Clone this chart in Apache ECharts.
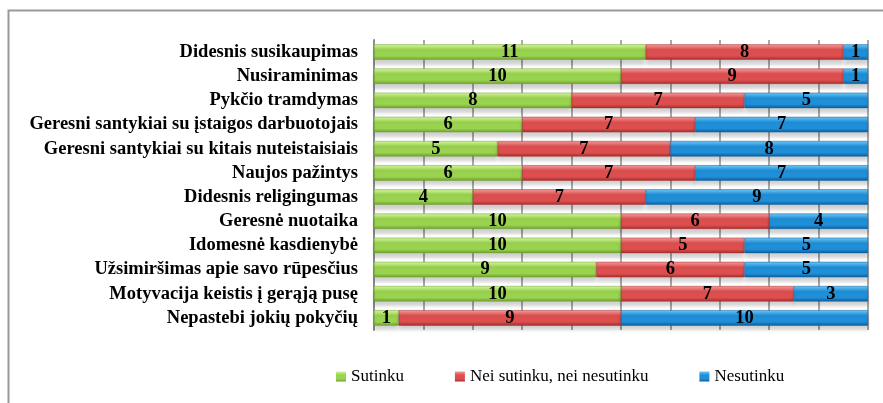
<!DOCTYPE html>
<html>
<head>
<meta charset="utf-8">
<script src="https://cdn.jsdelivr.net/npm/echarts@6/dist/echarts.min.js"></script>
<style>
  html, body { margin: 0; padding: 0; background: #fff; }
  #chart { width: 883px; height: 403px; }
</style>
</head>
<body>
<div id="chart"></div>
<script>
var categories = [
  'Didesnis susikaupimas',
  'Nusiraminimas',
  'Pykčio tramdymas',
  'Geresni santykiai su įstaigos darbuotojais',
  'Geresni santykiai su kitais nuteistaisiais',
  'Naujos pažintys',
  'Didesnis religingumas',
  'Geresnė nuotaika',
  'Idomesnė kasdienybė',
  'Užsimiršimas apie savo rūpesčius',
  'Motyvacija keistis į gerąją pusę',
  'Nepastebi jokių pokyčių'
];
var sutinku = [11, 10, 8, 6, 5, 6, 4, 10, 10, 9, 10, 1];
var neiNei = [8, 9, 7, 7, 7, 7, 7, 6, 5, 6, 7, 9];
var nesutinku = [1, 1, 5, 7, 8, 7, 9, 4, 5, 5, 3, 10];

function grad(top, mid, bot) {
  return new echarts.graphic.LinearGradient(0, 0, 0, 1, [
    { offset: 0, color: top },
    { offset: 0.35, color: mid },
    { offset: 0.75, color: mid },
    { offset: 1, color: bot }
  ]);
}

var font = '"Liberation Serif", "Times New Roman", serif';
var lbl = { show: true, position: 'inside', color: '#000', fontFamily: font, fontWeight: 'bold', fontSize: 18.5 };

function mk(name, data, colors) {
  return {
    name: name,
    type: 'bar',
    stack: 'all',
    barWidth: '64%',
    data: data,
    label: lbl,
    itemStyle: {
      color: grad(colors[0], colors[1], colors[2]),
      borderColor: colors[2],
      borderWidth: 0.5,
      shadowColor: 'rgba(0,0,0,0.18)',
      shadowBlur: 3,
      shadowOffsetY: 5
    },
    emphasis: { disabled: true }
  };
}

var myChart = echarts.init(document.getElementById('chart'));
myChart.setOption({
  animation: false,
  graphic: [{
    type: 'polyline',
    shape: { points: [[8.5, 403], [8.5, 10.5], [883, 10.5]] },
    style: { stroke: '#999', lineWidth: 2, fill: null }
  }],
  legend: {
    left: 331,
    top: 363,
    icon: 'rect',
    itemWidth: 10,
    itemHeight: 10,
    itemGap: 51,
    itemStyle: { borderWidth: 0, shadowBlur: 0, shadowOffsetY: 0 },
    textStyle: { fontFamily: font, fontSize: 17, color: '#000' },
    data: ['Sutinku', 'Nei sutinku, nei nesutinku', 'Nesutinku']
  },
  grid: { left: 374, right: 15, top: 40, bottom: 73, containLabel: false },
  xAxis: {
    type: 'value',
    min: 0,
    max: 20,
    interval: 2,
    axisLabel: { show: false },
    axisLine: { show: false },
    axisTick: { show: false },
    splitLine: { show: true, lineStyle: { color: '#8c8c8c', width: 1.5 } }
  },
  yAxis: {
    type: 'category',
    inverse: true,
    data: categories,
    axisTick: { show: false },
    axisLine: { show: true, lineStyle: { color: '#8c8c8c', width: 2 } },
    axisLabel: { interval: 0, color: '#000', fontFamily: font, fontWeight: 'bold', fontSize: 18.5, margin: 16 }
  },
  series: [
    mk('Sutinku', sutinku, ['#d2f59a', '#9ad34f', '#6e9f2e']),
    mk('Nei sutinku, nei nesutinku', neiNei, ['#f59a9a', '#dd4f4f', '#a52d2d']),
    mk('Nesutinku', nesutinku, ['#6cc8f7', '#1f8fd8', '#0d5c9c'])
  ]
});
</script>
</body>
</html>
